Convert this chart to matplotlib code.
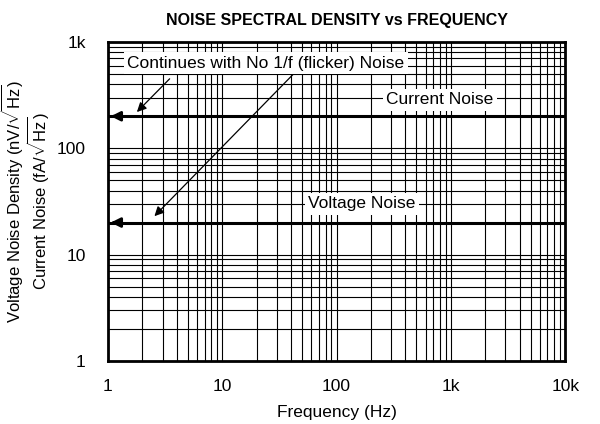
import numpy as np
import matplotlib.pyplot as plt
from matplotlib.ticker import FixedLocator, NullFormatter

plt.rcParams['font.family'] = ['Liberation Sans', 'DejaVu Sans']
plt.rcParams['mathtext.fontset'] = 'custom'
plt.rcParams['mathtext.rm'] = 'Liberation Sans'

freq = [1, 10000]
current_noise = [200, 200]   # fA/rtHz
voltage_noise = [20, 20]     # nV/rtHz

x_ticks = [1, 10, 100, 1000, 10000]
x_labels = ['1', '10', '100', '1k', '10k']
y_ticks = [1, 10, 100, 1000]
y_labels = ['1', '10', '100', '1k']

fig = plt.figure(figsize=(6, 4.24), dpi=100)
ax = fig.add_axes([0.18, 0.149, 0.762, 0.752])
ax.set_xscale('log')
ax.set_yscale('log')
ax.set_xlim(1, 10000)
ax.set_ylim(1, 1000)

minors_x = [m * 10 ** d for d in range(4) for m in range(2, 10)]
minors_y = [m * 10 ** d for d in range(3) for m in range(2, 10)]
ax.xaxis.set_major_locator(FixedLocator(x_ticks))
ax.yaxis.set_major_locator(FixedLocator(y_ticks))
ax.xaxis.set_minor_locator(FixedLocator(minors_x))
ax.yaxis.set_minor_locator(FixedLocator(minors_y))
ax.xaxis.set_minor_formatter(NullFormatter())
ax.yaxis.set_minor_formatter(NullFormatter())
ax.set_xticklabels(x_labels)
ax.set_yticklabels(y_labels)
ax.tick_params(which='both', length=0, labelsize=12.5, pad=13)
ax.tick_params(axis='y', pad=16)
ax.grid(which='both', color='black', lw=0.8)
ax.set_axisbelow(True)
for s in ax.spines.values():
    s.set_linewidth(2)

ax.plot(freq, current_noise, color='black', lw=2.2, zorder=3)
ax.plot(freq, voltage_noise, color='black', lw=2.2, zorder=3)
# arrowheads at the left end
for yv in (current_noise[0], voltage_noise[0]):
    ax.annotate('', xy=(1.0, yv), xytext=(1.25, yv),
                arrowprops=dict(arrowstyle='-|>', color='black', lw=2, mutation_scale=14),
                zorder=4)

box = dict(boxstyle='square,pad=0.2', fc='white', ec='none')
ax.text(800, 285, 'Current Noise', ha='center', va='center', fontsize=12.5, bbox=box, zorder=5)
ax.text(167, 30, 'Voltage Noise', ha='center', va='center', fontsize=12.5, bbox=box, zorder=5)
ax.text(24, 630, 'Continues with No 1/f (flicker) Noise', ha='center', va='center',
        fontsize=12.5, bbox=box, zorder=5)
ax.annotate('', xy=(1.72, 210), xytext=(3.6, 470),
            arrowprops=dict(arrowstyle='-|>', color='black', lw=0.9, mutation_scale=14), zorder=4)
ax.annotate('', xy=(2.45, 22), xytext=(45, 540),
            arrowprops=dict(arrowstyle='-|>', color='black', lw=0.9, mutation_scale=14), zorder=4)

ax.set_title('NOISE SPECTRAL DENSITY vs FREQUENCY', fontsize=11.5, fontweight='bold', pad=12)
ax.set_xlabel('Frequency (Hz)', fontsize=12.5, labelpad=8)
ax.set_ylabel('Voltage Noise Density (nV/$\\sqrt{\\mathrm{Hz}}$)\nCurrent Noise (fA/$\\sqrt{\\mathrm{Hz}}$)',
              fontsize=12, labelpad=4, linespacing=1.0)

fig.savefig('out.png', dpi=100)
